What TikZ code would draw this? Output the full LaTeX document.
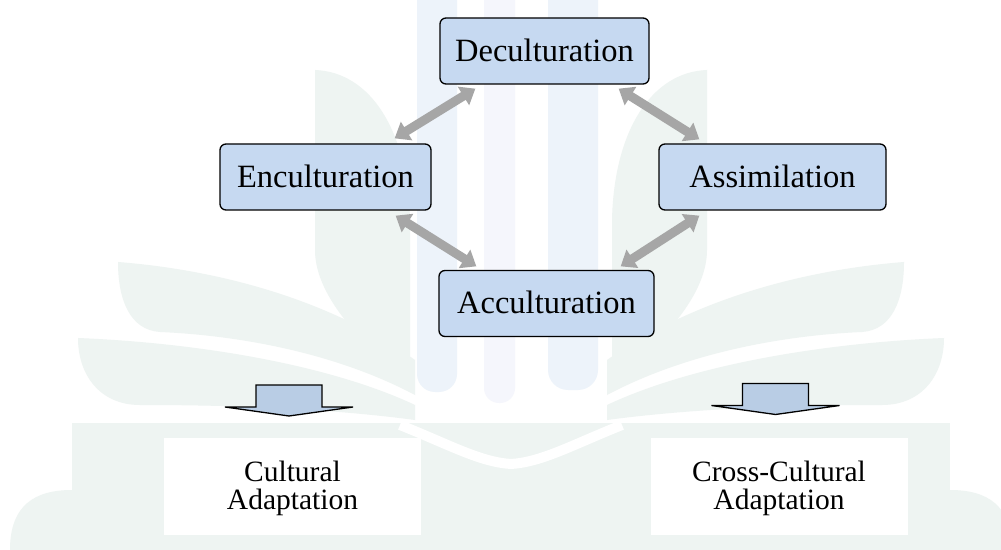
\documentclass[tikz,border=0pt]{standalone}
\usepackage{fontspec}
\setmainfont{Liberation Serif}
\usetikzlibrary{arrows.meta,calc}

\definecolor{stagefill}{RGB}{198,217,241}
\definecolor{blockfill}{RGB}{185,205,229}
\definecolor{linkgray}{RGB}{166,166,166}
\definecolor{wmgreen}{RGB}{238,244,242}
\definecolor{wmblue}{RGB}{237,243,250}
\definecolor{wmpale}{RGB}{245,246,252}

\tikzset{
  stage/.style={draw=black, line width=1.3bp, fill=stagefill, rounded corners=6bp,
    inner sep=0pt, minimum height=66bp,
    font=\fontsize{32.5bp}{39bp}\selectfont, text height=23.4bp, text depth=3.2bp},
  link/.style={draw=linkgray, line width=9bp,
    {Triangle[width=21bp,length=14bp]}-{Triangle[width=21bp,length=14bp]}},
  outcome/.style={fill=white, inner sep=0pt, minimum width=257bp, minimum height=97bp},
  outtext/.style={font=\fontsize{29.5bp}{28bp}\selectfont, align=center, inner sep=0pt},
  blockarrow/.style={draw=black, line width=1.3bp, fill=blockfill},
  emblem/.style={fill=wmgreen},
}

\begin{document}
\begin{tikzpicture}[x=1bp,y=-1bp]
\useasboundingbox (0,0) rectangle (1001,550);
\fill[white] (0,0) rectangle (1001,550);

% faint emblem in the background
\fill[emblem] (72,423) rectangle (950,550);
\fill[emblem] (10,550) .. controls (10,505) and (35,490) .. (72,490) -- (72,550) -- cycle;
\fill[emblem] (1012,550) .. controls (1012,505) and (987,490) .. (950,490) -- (950,550) -- cycle;
\fill[wmblue, rounded corners=18bp] (417,-40) rectangle (457,392);
\fill[wmpale, rounded corners=15bp] (484,-40) rectangle (515,403);
\fill[wmblue, rounded corners=20bp] (548,-40) rectangle (598,390);
\fill[emblem] (315,70) .. controls (370,72) and (408,130) .. (410,220) -- (410,385)
  .. controls (370,350) and (315,300) .. (315,250) -- cycle;
\fill[emblem] (707,70) .. controls (652,72) and (614,130) .. (612,220) -- (612,385)
  .. controls (652,350) and (707,300) .. (707,250) -- cycle;
\fill[emblem] (118,262) .. controls (220,270) and (330,300) .. (415,360) -- (415,395)
  .. controls (330,350) and (230,335) .. (160,332) .. controls (130,330) and (118,300) .. (118,262) -- cycle;
\fill[emblem] (904,262) .. controls (802,270) and (692,300) .. (607,360) -- (607,395)
  .. controls (692,350) and (792,335) .. (862,332) .. controls (892,330) and (904,300) .. (904,262) -- cycle;
\fill[emblem] (78,338) .. controls (200,343) and (330,365) .. (415,405) -- (415,420)
  .. controls (340,410) and (250,405) .. (140,405) .. controls (100,405) and (78,375) .. (78,338) -- cycle;
\fill[emblem] (944,338) .. controls (822,343) and (692,365) .. (607,405) -- (607,420)
  .. controls (682,410) and (772,405) .. (882,405) .. controls (922,405) and (944,375) .. (944,338) -- cycle;
\draw[white, line width=10bp] (400,425) .. controls (450,445) and (480,462) .. (511,464)
  .. controls (542,462) and (572,445) .. (622,425);

% the four stages
\node[stage, minimum width=209bp] (dec) at (544.5,51) {Deculturation};
\node[stage, minimum width=211bp] (enc) at (325.5,177) {Enculturation};
\node[stage, minimum width=227bp] (ass) at (772.5,177) {Assimilation};
\node[stage, minimum width=215bp] (acc) at (546.5,303.5) {Acculturation};

% two-way links between the stages
\draw[link] ($(dec.south west)+(36,4)$) -- ($(enc.north east)+(-37,-5)$);
\draw[link] ($(dec.south east)+(-31,4)$) -- ($(ass.north west)+(41,-4)$);
\draw[link] ($(enc.south east)+(-36,5)$) -- ($(acc.north west)+(38,-3.5)$);
\draw[link] ($(ass.south west)+(41,5)$) -- ($(acc.north east)+(-34,-3.5)$);

% outcomes
\node[outcome] (cult) at (292.5,486.5) {};
\node[outtext] (culttext) at ($(cult.center)+(0,2)$) {Cultural\\Adaptation};
\node[outcome] (cross) at (779,486.5) {};
\node[outtext] (crosstext) at ($(cross.center)+(0,2)$) {Cross-Cultural\\Adaptation};

% block arrows pointing to the outcomes
\coordinate (lt) at (289,385);
\coordinate (rt) at (775.5,383.5);
\draw[blockarrow] (lt) ++(-33,0) -- ++(66,0) -- ++(0,22) -- ++(31,0) -- ++(-64,9)
  -- ++(-64,-9) -- ++(31,0) -- cycle;
\draw[blockarrow] (rt) ++(-33,0) -- ++(66,0) -- ++(0,22) -- ++(31,0) -- ++(-64,9)
  -- ++(-64,-9) -- ++(31,0) -- cycle;
\end{tikzpicture}
\end{document}
